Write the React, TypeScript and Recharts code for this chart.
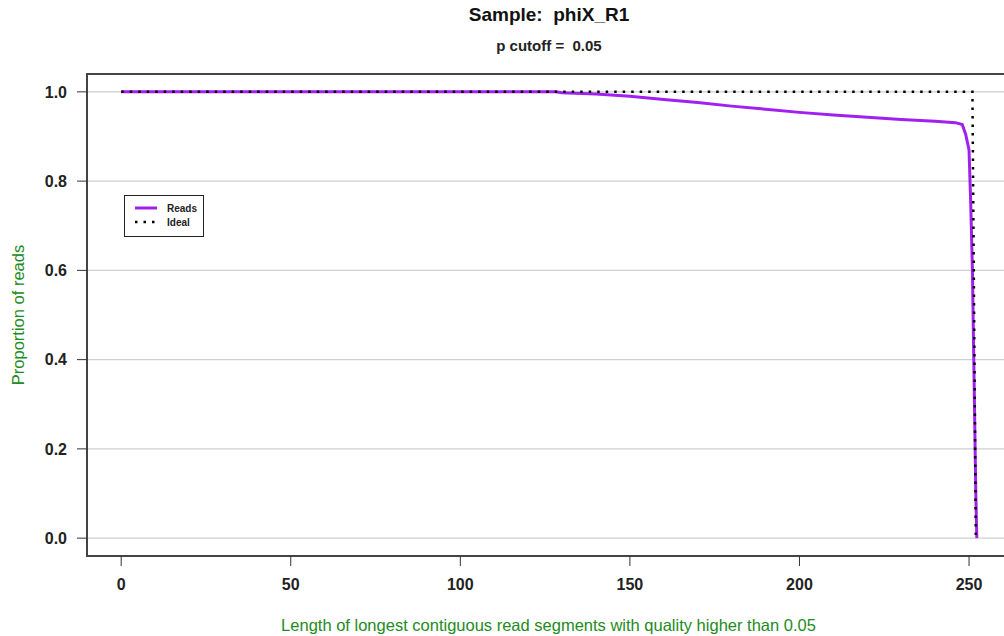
import { LineChart, Line, XAxis, YAxis, CartesianGrid, ReferenceArea } from 'recharts'

// x = read segment length, y = proportion of reads
const readsLen = [0, 128, 130, 140, 150, 160, 170, 180, 190, 200, 210, 220, 230, 240, 246, 248, 249, 250, 250.5, 251, 251.5, 252, 252.3]
const readsProp = [1.0, 1.0, 0.998, 0.995, 0.99, 0.983, 0.976, 0.968, 0.961, 0.954, 0.948, 0.943, 0.938, 0.934, 0.931, 0.927, 0.905, 0.87, 0.75, 0.6, 0.35, 0.1, 0.0]
const idealLen = [0, 251, 252]
const idealProp = [1, 1, 0]

const xTicks = [0, 50, 100, 150, 200, 250]
const yTicks = [0, 0.2, 0.4, 0.6, 0.8, 1.0]

const readsData = readsLen.map((x, i) => ({ x, y: readsProp[i] }))
const idealData = idealLen.map((x, i) => ({ x, y: idealProp[i] }))

const font = '"Liberation Sans", Arial, sans-serif'
const purple = '#A020F0'
const green = '#228B22'

function LegendBox() {
  return (
    <div
      style={{
        position: 'absolute',
        left: 124,
        top: 195,
        width: 80,
        height: 42,
        border: '1.5px solid #222',
        background: '#fff',
        boxSizing: 'border-box',
      }}
    >
      <svg width={78} height={40} style={{ display: 'block' }}>
        <line x1={10} x2={32} y1={12} y2={12} stroke={purple} strokeWidth={3} />
        <text x={42} y={15.5} fill="#222" fontSize={10} fontWeight="bold" fontFamily={font}>Reads</text>
        <line x1={10} x2={32} y1={26} y2={26} stroke="#000" strokeWidth={2.5} strokeDasharray="2.5 6" />
        <text x={42} y={29.5} fill="#222" fontSize={10} fontWeight="bold" fontFamily={font}>Ideal</text>
      </svg>
    </div>
  )
}

export default function App() {
  return (
    <div style={{ position: 'absolute', left: 0, top: 0, width: 1004, height: 636, overflow: 'hidden', background: '#fff' }}>
      <LineChart width={1012} height={636} margin={{ top: 74, right: 2, left: 0, bottom: 0 }}>
        <CartesianGrid vertical={false} stroke="#cfcfcf" strokeWidth={1.2} />
        <XAxis
          dataKey="x"
          type="number"
          domain={[-10.08, 262.08]}
          ticks={xTicks}
          allowDataOverflow
          height={80}
          axisLine={false}
          tickLine={{ stroke: '#333' }}
          tickSize={10}
          tickMargin={13}
          tick={{ fill: '#222', fontSize: 16, fontWeight: 'bold', fontFamily: font }}
          label={{ value: 'Length of longest contiguous read segments with quality higher than 0.05', position: 'insideBottom', offset: 5, fill: green, fontSize: 16.5, fontFamily: font }}
        />
        <YAxis
          dataKey="y"
          type="number"
          domain={[-0.04, 1.04]}
          ticks={yTicks}
          allowDataOverflow
          width={87}
          axisLine={false}
          tickLine={{ stroke: '#333' }}
          tickSize={10}
          tickMargin={10}
          tickFormatter={(v: number) => v.toFixed(1)}
          tick={{ fill: '#222', fontSize: 16, fontWeight: 'bold', fontFamily: font }}
        />
        <ReferenceArea x1={-10.08} x2={262.08} y1={-0.04} y2={1.04} fill="none" stroke="#444" strokeWidth={2} ifOverflow="visible" />
        <Line data={readsData} dataKey="y" name="Reads" stroke={purple} strokeWidth={3} dot={false} isAnimationActive={false} type="linear" />
        <Line data={idealData} dataKey="y" name="Ideal" stroke="#000" strokeWidth={2.5} strokeDasharray="2.5 6" dot={false} isAnimationActive={false} type="linear" />
        <text x={549} y={21} textAnchor="middle" fontFamily={font} fontSize={19} fontWeight="bold" fill="#111" style={{ whiteSpace: 'pre' }}>Sample:  phiX_R1</text>
        <text x={549} y={51} textAnchor="middle" fontFamily={font} fontSize={15} fontWeight="bold" fill="#222" style={{ whiteSpace: 'pre' }}>p cutoff =  0.05</text>
        <text x={18} y={315} transform="rotate(-90 18 315)" textAnchor="middle" dominantBaseline="central" fontFamily={font} fontSize={16.5} fill={green}>Proportion of reads</text>
      </LineChart>
      <LegendBox />
    </div>
  )
}
